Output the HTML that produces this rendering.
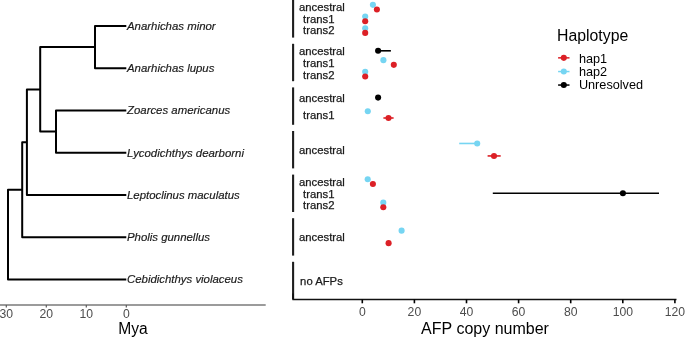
<!DOCTYPE html>
<html><head><meta charset="utf-8"><title>AFP copy number</title>
<style>
html,body{margin:0;padding:0;background:#fff;}
body{width:685px;height:338px;overflow:hidden;}
svg{display:block;}
text{font-family:"Liberation Sans",Arial,sans-serif;}
.tip{font-size:11.4px;font-style:italic;fill:#1a1a1a;stroke:#1a1a1a;stroke-width:0.18px;}
.tick{font-size:12.2px;fill:#4d4d4d;}
.axt{font-size:15.6px;fill:#000;}
.cat{font-size:11.3px;fill:#1a1a1a;stroke:#1a1a1a;stroke-width:0.25px;}
.legt{font-size:15.8px;fill:#000;}
.leg{font-size:12.7px;fill:#000;}
</style></head>
<body>
<svg width="685" height="338" viewBox="0 0 685 338">
<rect width="685" height="338" fill="#fff"/>
<g fill="none" stroke="#000000" stroke-width="2.0" stroke-linejoin="round" stroke-linecap="butt">
<path d="M126.3,26.00H95.0V68.25H126.3"/>
<path d="M126.3,110.50H56.0V152.75H126.3"/>
<path d="M95.0,47.12H40.2V131.62H56.0"/>
<path d="M40.2,89.38H26.9V195.00H126.3"/>
<path d="M26.9,142.19H22.2V237.25H126.3"/>
<path d="M22.2,189.72H8.0V279.50H126.3"/>
</g>
<text x="127" y="29.85" class="tip">Anarhichas minor</text>
<text x="127" y="72.10" class="tip">Anarhichas lupus</text>
<text x="127" y="114.35" class="tip">Zoarces americanus</text>
<text x="127" y="156.60" class="tip">Lycodichthys dearborni</text>
<text x="127" y="198.85" class="tip">Leptoclinus maculatus</text>
<text x="127" y="241.10" class="tip">Pholis gunnellus</text>
<text x="127" y="283.35" class="tip">Cebidichthys violaceus</text>
<line x1="0" y1="305.0" x2="265.7" y2="305.0" stroke="#7a7a7a" stroke-width="1.6"/>
<line x1="6.3" y1="305.0" x2="6.3" y2="307.4" stroke="#5a5a5a" stroke-width="1.2"/>
<text x="6.3" y="317.6" class="tick" text-anchor="middle">30</text>
<line x1="46.3" y1="305.0" x2="46.3" y2="307.4" stroke="#5a5a5a" stroke-width="1.2"/>
<text x="46.3" y="317.6" class="tick" text-anchor="middle">20</text>
<line x1="86.3" y1="305.0" x2="86.3" y2="307.4" stroke="#5a5a5a" stroke-width="1.2"/>
<text x="86.3" y="317.6" class="tick" text-anchor="middle">10</text>
<line x1="126.3" y1="305.0" x2="126.3" y2="307.4" stroke="#5a5a5a" stroke-width="1.2"/>
<text x="126.3" y="317.6" class="tick" text-anchor="middle">0</text>
<text x="133" y="333.7" class="axt" text-anchor="middle">Mya</text>
<line x1="293.1" y1="-2.00" x2="293.1" y2="37.60" stroke="#1e1e1e" stroke-width="2.1"/>
<text x="299.0" y="11.31" class="cat">ancestral</text>
<text x="303.1" y="22.80" class="cat">trans1</text>
<text x="303.1" y="34.49" class="cat">trans2</text>
<line x1="293.1" y1="43.80" x2="293.1" y2="81.20" stroke="#1e1e1e" stroke-width="2.1"/>
<text x="299.0" y="54.91" class="cat">ancestral</text>
<text x="303.1" y="66.90" class="cat">trans1</text>
<text x="303.1" y="78.59" class="cat">trans2</text>
<line x1="293.1" y1="87.40" x2="293.1" y2="124.80" stroke="#1e1e1e" stroke-width="2.1"/>
<text x="299.0" y="101.70" class="cat">ancestral</text>
<text x="303.1" y="119.00" class="cat">trans1</text>
<line x1="293.1" y1="131.00" x2="293.1" y2="168.40" stroke="#1e1e1e" stroke-width="2.1"/>
<text x="299.0" y="154.30" class="cat">ancestral</text>
<line x1="293.1" y1="174.60" x2="293.1" y2="212.00" stroke="#1e1e1e" stroke-width="2.1"/>
<text x="299.0" y="185.71" class="cat">ancestral</text>
<text x="303.1" y="197.70" class="cat">trans1</text>
<text x="303.1" y="209.39" class="cat">trans2</text>
<line x1="293.1" y1="218.20" x2="293.1" y2="255.60" stroke="#1e1e1e" stroke-width="2.1"/>
<text x="299.0" y="241.00" class="cat">ancestral</text>
<line x1="293.1" y1="261.80" x2="293.1" y2="299.20" stroke="#1e1e1e" stroke-width="2.1"/>
<text x="300.1" y="284.90" class="cat">no AFPs</text>
<path d="M293.1,293.5V299.5H676.5" fill="none" stroke="#111" stroke-width="1.7" stroke-linejoin="round"/>
<line x1="362.3" y1="299.5" x2="362.3" y2="303.3" stroke="#000000" stroke-width="1.6"/>
<text x="362.3" y="316.2" class="tick" text-anchor="middle">0</text>
<line x1="414.4" y1="299.5" x2="414.4" y2="303.3" stroke="#000000" stroke-width="1.6"/>
<text x="414.4" y="316.2" class="tick" text-anchor="middle">20</text>
<line x1="466.5" y1="299.5" x2="466.5" y2="303.3" stroke="#000000" stroke-width="1.6"/>
<text x="466.5" y="316.2" class="tick" text-anchor="middle">40</text>
<line x1="518.6" y1="299.5" x2="518.6" y2="303.3" stroke="#000000" stroke-width="1.6"/>
<text x="518.6" y="316.2" class="tick" text-anchor="middle">60</text>
<line x1="570.7" y1="299.5" x2="570.7" y2="303.3" stroke="#000000" stroke-width="1.6"/>
<text x="570.7" y="316.2" class="tick" text-anchor="middle">80</text>
<line x1="622.8" y1="299.5" x2="622.8" y2="303.3" stroke="#000000" stroke-width="1.6"/>
<text x="622.8" y="316.2" class="tick" text-anchor="middle">100</text>
<line x1="674.9" y1="299.5" x2="674.9" y2="303.3" stroke="#000000" stroke-width="1.6"/>
<text x="674.9" y="316.2" class="tick" text-anchor="middle">120</text>
<text x="485" y="333.8" class="axt" style="font-size:16px" text-anchor="middle">AFP copy number</text>
<circle cx="372.9" cy="4.87" r="3.05" fill="#76d5f2"/>
<circle cx="376.9" cy="9.55" r="3.05" fill="#dc2026"/>
<circle cx="365.2" cy="16.56" r="3.05" fill="#76d5f2"/>
<circle cx="365.2" cy="21.24" r="3.05" fill="#dc2026"/>
<circle cx="365.2" cy="28.25" r="3.05" fill="#76d5f2"/>
<circle cx="365.2" cy="32.92" r="3.05" fill="#dc2026"/>
<line x1="378.1" y1="50.81" x2="390.9" y2="50.81" stroke="#000000" stroke-width="1.6"/>
<circle cx="378.1" cy="50.81" r="3.05" fill="#000000"/>
<circle cx="383.4" cy="60.16" r="3.05" fill="#76d5f2"/>
<circle cx="393.8" cy="64.84" r="3.05" fill="#dc2026"/>
<circle cx="365.2" cy="71.85" r="3.05" fill="#76d5f2"/>
<circle cx="365.2" cy="76.53" r="3.05" fill="#dc2026"/>
<circle cx="378.1" cy="97.60" r="3.05" fill="#000000"/>
<circle cx="367.8" cy="111.20" r="3.05" fill="#76d5f2"/>
<line x1="383.4" y1="118.00" x2="393.6" y2="118.00" stroke="#dc2026" stroke-width="1.6"/>
<circle cx="388.5" cy="118.00" r="3.05" fill="#dc2026"/>
<line x1="459.2" y1="143.47" x2="477.2" y2="143.47" stroke="#76d5f2" stroke-width="1.6"/>
<circle cx="477.2" cy="143.47" r="3.05" fill="#76d5f2"/>
<line x1="487.6" y1="155.93" x2="500.7" y2="155.93" stroke="#dc2026" stroke-width="1.6"/>
<circle cx="494.0" cy="155.93" r="3.05" fill="#dc2026"/>
<circle cx="367.7" cy="179.27" r="3.05" fill="#76d5f2"/>
<circle cx="372.9" cy="183.95" r="3.05" fill="#dc2026"/>
<line x1="492.8" y1="193.30" x2="659.0" y2="193.30" stroke="#000000" stroke-width="1.6"/>
<circle cx="622.9" cy="193.30" r="3.05" fill="#000000"/>
<circle cx="383.3" cy="202.65" r="3.05" fill="#76d5f2"/>
<circle cx="383.3" cy="207.32" r="3.05" fill="#dc2026"/>
<circle cx="401.6" cy="230.67" r="3.05" fill="#76d5f2"/>
<circle cx="388.6" cy="243.13" r="3.05" fill="#dc2026"/>
<text x="557.1" y="41.2" class="legt">Haplotype</text>
<line x1="558.1" y1="57.85" x2="569.5" y2="57.85" stroke="#dc2026" stroke-width="1.5"/>
<circle cx="563.8" cy="57.85" r="3.05" fill="#dc2026"/>
<text x="578.9" y="62.5" class="leg">hap1</text>
<line x1="558.1" y1="71.55" x2="569.5" y2="71.55" stroke="#76d5f2" stroke-width="1.5"/>
<circle cx="563.8" cy="71.55" r="3.05" fill="#76d5f2"/>
<text x="578.9" y="76.0" class="leg">hap2</text>
<line x1="558.1" y1="85.05" x2="569.5" y2="85.05" stroke="#000000" stroke-width="1.5"/>
<circle cx="563.8" cy="85.05" r="3.05" fill="#000000"/>
<text x="578.9" y="89.45" class="leg">Unresolved</text>
</svg>
</body></html>
